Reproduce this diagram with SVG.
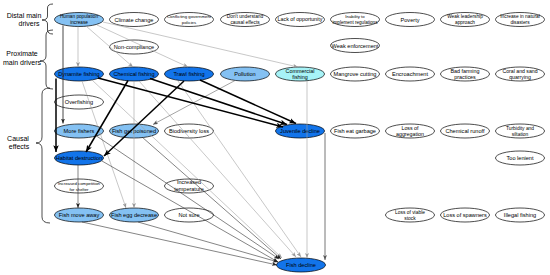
<svg xmlns="http://www.w3.org/2000/svg" width="550" height="275" viewBox="0 0 550 275">
<style>
text{font-family:"Liberation Sans",Arial,sans-serif;fill:#000;text-anchor:middle}
.lab{font-size:7px}
.n ellipse{stroke:#000;stroke-width:0.7}
.w ellipse{fill:#fff}
.lb ellipse{fill:#84c1f3}
.db ellipse{fill:#1274ea}
.cy ellipse{fill:#a7f3f7}
.f1{font-size:5.6px}
.f2{font-size:4.9px}
.f3{font-size:4.3px}
.eg{stroke:#a3a3a3;stroke-width:0.6;fill:none}
.ed{stroke:#333;stroke-width:0.6;fill:none}
.em{stroke:#666;stroke-width:0.9;fill:none}
.et{stroke:#000;stroke-width:1.5;fill:none}
.br{stroke:#000;stroke-width:0.7;fill:none}
</style>
<defs>
<marker id="ag" viewBox="0 0 10 8" refX="10" refY="4" markerWidth="5" markerHeight="4" orient="auto" markerUnits="userSpaceOnUse"><path d="M0,0 L10,4 L0,8 L2.5,4 z" fill="#999"/></marker>
<marker id="ad" viewBox="0 0 10 8" refX="10" refY="4" markerWidth="5" markerHeight="4" orient="auto" markerUnits="userSpaceOnUse"><path d="M0,0 L10,4 L0,8 L2.5,4 z" fill="#222"/></marker>
<marker id="am" viewBox="0 0 10 8" refX="10" refY="4" markerWidth="5" markerHeight="4" orient="auto" markerUnits="userSpaceOnUse"><path d="M0,0 L10,4 L0,8 L2.5,4 z" fill="#555"/></marker>
<marker id="at" viewBox="0 0 10 8" refX="10" refY="4" markerWidth="7" markerHeight="5.5" orient="auto" markerUnits="userSpaceOnUse"><path d="M0,0 L10,4 L0,8 L2.5,4 z" fill="#000"/></marker>
</defs>

<g id="annotations">
<text class="lab" x="24" y="17.5">Distal main</text>
<text class="lab" x="29" y="25.5">drivers</text>
<path class="br" d="M53,4 Q47.5,4 47.5,8 L47.5,16 Q47.5,20 42,20 Q47.5,20 47.5,24 L47.5,30 Q47.5,34 53,34"/>
<text class="lab" x="22" y="55.5">Proximate</text>
<text class="lab" x="22" y="64.5">main drivers</text>
<path class="br" d="M53,30 Q46,30 46,35 L46,56 Q46,61 40,61 Q46,61 46,66 L46,84 Q46,89 53,89"/>
<text class="lab" x="18" y="140.5">Causal</text>
<text class="lab" x="19" y="149">effects</text>
<path class="br" d="M50,88 Q42,88 42,94 L42,137 Q42,143 36,143 Q42,143 42,149 L42,217 Q42,223 50,223"/>
</g>

<g id="nodes">
<g id="n_hpi" class="n lb"><ellipse cx="79" cy="19.5" rx="24.5" ry="7"/><text class="f3" x="79" y="18" style="font-size:4.7px">Human population</text><text x="79" y="24.2" style="font-size:4.7px">increase</text></g>
<g id="n_cc" class="n w"><ellipse cx="134" cy="19.5" rx="24.5" ry="7"/><text class="f1" x="134" y="21.5">Climate change</text></g>
<g id="n_cgp" class="n w"><ellipse cx="189" cy="19.5" rx="24.5" ry="7"/><text class="f3" x="189" y="18">Conflicting government</text><text class="f3" x="189" y="24">policies</text></g>
<g id="n_duce" class="n w"><ellipse cx="245" cy="19.5" rx="24.5" ry="7"/><text x="245" y="18" style="font-size:4.8px">Don't understand</text><text x="245" y="24.2" style="font-size:4.8px">causal effects</text></g>
<g id="n_lo" class="n w"><ellipse cx="300" cy="19.5" rx="24.5" ry="7"/><text x="300" y="21.4" style="font-size:5.3px">Lack of opportunity</text></g>
<g id="n_iir" class="n w"><ellipse cx="355" cy="19.5" rx="24.5" ry="7"/><text class="f3" x="355" y="18">Inability to</text><text x="355" y="24" style="font-size:4.6px">implement regulations</text></g>
<g id="n_pov" class="n w"><ellipse cx="410" cy="19.5" rx="24.5" ry="7"/><text class="f1" x="410" y="21.5">Poverty</text></g>
<g id="n_wla" class="n w"><ellipse cx="465" cy="19.5" rx="24.5" ry="7"/><text x="465" y="18" style="font-size:4.8px">Weak leadership</text><text x="465" y="24.2" style="font-size:4.8px">approach</text></g>
<g id="n_ind" class="n w"><ellipse cx="520" cy="19.5" rx="24.5" ry="7"/><text x="520" y="18" style="font-size:4.8px">Increase in natural</text><text x="520" y="24.2" style="font-size:4.8px">disasters</text></g>

<g id="n_nc" class="n w"><ellipse cx="134" cy="47" rx="24.5" ry="7"/><text class="f1" x="134" y="49">Non-compliance</text></g>
<g id="n_we" class="n w"><ellipse cx="355" cy="45.5" rx="24.5" ry="7"/><text class="f1" x="355" y="47.5">Weak enforcement</text></g>

<g id="n_dyn" class="n db"><ellipse cx="79" cy="74" rx="24.5" ry="7"/><text class="f1" x="79" y="76">Dynamite fishing</text></g>
<g id="n_chem" class="n db"><ellipse cx="134" cy="74" rx="24.5" ry="7"/><text class="f1" x="134" y="76">Chemical fishing</text></g>
<g id="n_trawl" class="n db"><ellipse cx="189" cy="74" rx="24.5" ry="7"/><text class="f1" x="189" y="76">Trawl fishing</text></g>
<g id="n_poll" class="n lb"><ellipse cx="245" cy="74" rx="24.5" ry="7"/><text class="f1" x="245" y="76">Pollution</text></g>
<g id="n_comm" class="n cy"><ellipse cx="300" cy="74" rx="24.5" ry="7"/><text x="300" y="72.5" style="font-size:5.4px">Commercial</text><text x="300" y="79.2" style="font-size:5.4px">fishing</text></g>
<g id="n_mang" class="n w"><ellipse cx="355" cy="74" rx="24.5" ry="7"/><text class="f1" x="355" y="76">Mangrove cutting</text></g>
<g id="n_encr" class="n w"><ellipse cx="410" cy="74" rx="24.5" ry="7"/><text class="f1" x="410" y="76">Encroachment</text></g>
<g id="n_bfp" class="n w"><ellipse cx="465" cy="74" rx="24.5" ry="7"/><text x="465" y="72.5" style="font-size:5.4px">Bad farming</text><text x="465" y="79.2" style="font-size:5.4px">practices</text></g>
<g id="n_csq" class="n w"><ellipse cx="520" cy="74" rx="24.5" ry="7"/><text x="520" y="72.5" style="font-size:5.2px">Coral and sand</text><text x="520" y="79.2" style="font-size:5.2px">quarrying</text></g>

<g id="n_over" class="n w"><ellipse cx="79" cy="102" rx="24.5" ry="7"/><text class="f1" x="79" y="104">Overfishing</text></g>

<g id="n_mf" class="n lb"><ellipse cx="79" cy="131" rx="24.5" ry="7"/><text class="f1" x="79" y="133">More fishers</text></g>
<g id="n_fgp" class="n lb"><ellipse cx="134" cy="131" rx="24.5" ry="7"/><text class="f1" x="134" y="133">Fish get poisoned</text></g>
<g id="n_bio" class="n w"><ellipse cx="189" cy="131" rx="24.5" ry="7"/><text class="f1" x="189" y="133">Biodiversity loss</text></g>
<g id="n_juv" class="n db"><ellipse cx="300" cy="131" rx="24.5" ry="7"/><text class="f1" x="300" y="133">Juvenile decline</text></g>
<g id="n_feg" class="n w"><ellipse cx="355" cy="131" rx="24.5" ry="7"/><text class="f1" x="355" y="133">Fish eat garbage</text></g>
<g id="n_loa" class="n w"><ellipse cx="410" cy="131" rx="24.5" ry="7"/><text x="410" y="129.5" style="font-size:5.3px">Loss of</text><text x="410" y="136.2" style="font-size:5.3px">aggregation</text></g>
<g id="n_cr" class="n w"><ellipse cx="465" cy="131" rx="24.5" ry="7"/><text class="f1" x="465" y="133">Chemical runoff</text></g>
<g id="n_ts" class="n w"><ellipse cx="520" cy="131" rx="24.5" ry="7"/><text class="f2" x="520" y="129.5">Turbidity and</text><text class="f2" x="520" y="136">siltation</text></g>

<g id="n_hab" class="n db"><ellipse cx="79" cy="158" rx="24.5" ry="7"/><text class="f1" x="79" y="160">Habitat destruction</text></g>
<g id="n_tl" class="n w"><ellipse cx="520" cy="158" rx="24.5" ry="7"/><text class="f1" x="520" y="160">Too lenient</text></g>

<g id="n_ics" class="n w"><ellipse cx="79" cy="186" rx="24.5" ry="7"/><text class="f3" x="79" y="184.5">Increased competition</text><text class="f3" x="79" y="190.5">for shelter</text></g>
<g id="n_it" class="n w"><ellipse cx="189" cy="186" rx="24.5" ry="7"/><text x="189" y="184" style="font-size:5.5px">Increased</text><text x="189" y="191" style="font-size:5.5px">temperature</text></g>

<g id="n_fma" class="n lb"><ellipse cx="79" cy="215" rx="24.5" ry="7"/><text class="f1" x="79" y="217">Fish move away</text></g>
<g id="n_fed" class="n lb"><ellipse cx="134" cy="215" rx="24.5" ry="7"/><text class="f1" x="134" y="217">Fish egg decrease</text></g>
<g id="n_ns" class="n w"><ellipse cx="189" cy="215" rx="24.5" ry="7"/><text class="f1" x="189" y="217">Not sure</text></g>
<g id="n_lvs" class="n w"><ellipse cx="410" cy="215" rx="24.5" ry="7"/><text class="f2" x="410" y="213.5">Loss of viable</text><text class="f2" x="410" y="220">stock</text></g>
<g id="n_los" class="n w"><ellipse cx="465" cy="215" rx="24.5" ry="7"/><text class="f1" x="465" y="217">Loss of spawners</text></g>
<g id="n_ill" class="n w"><ellipse cx="520" cy="215" rx="24.5" ry="7"/><text class="f1" x="520" y="217">Illegal fishing</text></g>

<g id="n_fd" class="n db"><ellipse cx="301" cy="265" rx="24.5" ry="7"/><text class="f1" x="301" y="267">Fish decline</text></g>
</g>

<g id="connectors">
<line class="eg" x1="78" y1="26.5" x2="78" y2="67" marker-end="url(#ag)"/>
<line class="eg" x1="86" y1="26" x2="133" y2="67" marker-end="url(#ag)"/>
<line class="eg" x1="97" y1="25" x2="188" y2="67" marker-end="url(#ag)"/>
<line class="eg" x1="103" y1="22" x2="298" y2="67" marker-end="url(#ag)"/>
<line class="eg" x1="82" y1="81" x2="126" y2="208" marker-end="url(#ag)"/>
<line class="eg" x1="134" y1="81" x2="134" y2="208" marker-end="url(#ag)"/>
<line class="eg" x1="92" y1="80" x2="282" y2="258" marker-end="url(#ag)"/>
<line class="eg" x1="139" y1="81" x2="296" y2="257" marker-end="url(#ag)"/>
<line class="eg" x1="178" y1="81" x2="301" y2="257" marker-end="url(#ag)"/>
<line class="eg" x1="307" y1="81" x2="307" y2="258" marker-end="url(#ag)"/>

<line class="ed" x1="63" y1="25.5" x2="63" y2="123.5" style="stroke-width:0.9" marker-end="url(#ad)"/>
<line class="em" x1="235" y1="80.5" x2="153" y2="124.5" style="stroke-width:0.6" marker-end="url(#am)"/>
<line class="ed" x1="95" y1="135" x2="279" y2="259" marker-end="url(#ad)"/>
<line class="ed" x1="142" y1="137" x2="281" y2="259" marker-end="url(#ad)"/>
<line class="ed" x1="102" y1="161" x2="278" y2="262" marker-end="url(#ad)"/>
<line class="ed" x1="78" y1="165" x2="78" y2="208" marker-end="url(#ad)"/>
<line class="ed" x1="82" y1="222" x2="277" y2="265" marker-end="url(#ad)"/>
<line class="ed" x1="138" y1="222" x2="278" y2="262" marker-end="url(#ad)"/>
<line class="em" x1="325" y1="133" x2="325" y2="260" marker-end="url(#am)"/>

<line class="et" x1="56" y1="78.5" x2="56" y2="152" marker-end="url(#at)"/>
<line class="et" x1="128" y1="80.5" x2="86" y2="152" marker-end="url(#at)"/>
<line class="et" x1="184" y1="81" x2="104" y2="156" marker-end="url(#at)"/>
<line class="et" x1="98" y1="78" x2="283" y2="127" marker-end="url(#at)"/>
<line class="et" x1="150" y1="78.5" x2="287" y2="124.5" marker-end="url(#at)"/>
<line class="et" x1="200" y1="80" x2="296" y2="123.5" marker-end="url(#at)"/>
</g>
</svg>
